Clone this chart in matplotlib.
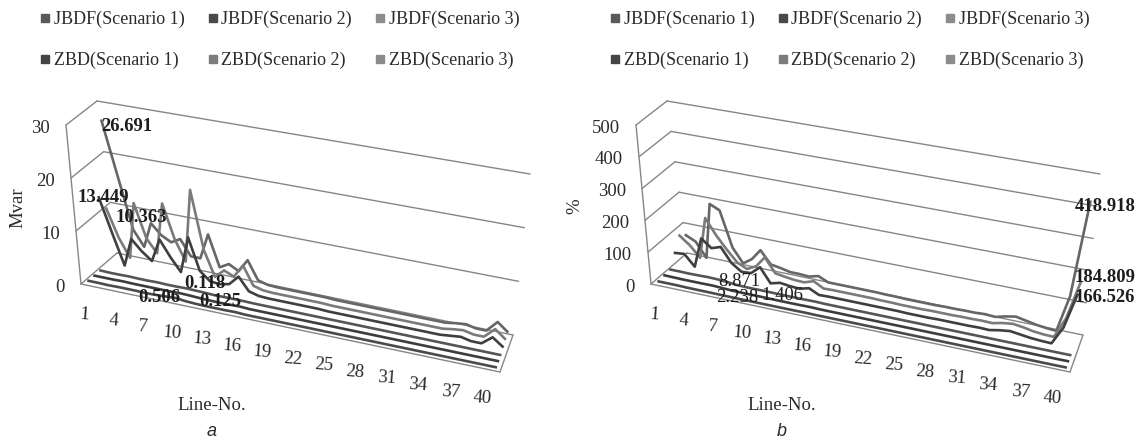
import matplotlib
matplotlib.use("Agg")
import matplotlib.pyplot as plt
from matplotlib.lines import Line2D
import numpy as np

plt.rcParams['font.family'] = ['Liberation Serif']

series_names = ["JBDF(Scenario 1)", "JBDF(Scenario 2)", "JBDF(Scenario 3)",
                "ZBD(Scenario 1)", "ZBD(Scenario 2)", "ZBD(Scenario 3)"]
line_no = list(range(1, 42))
tick_lines = list(range(1, 41, 3))

# Panel a, Mvar
a_j1 = [0.3,0.3,0.25,0.3,0.3,0.3,0.25,0.3,0.4,0.506,0.3,0.2,0.15,0.15,0.15,0.2,0.1,0.1,0.1,0.1,0.1,0.1,0.1,0.1,0.1,0.1,0.1,0.1,0.1,0.1,0.1,0.1,0.1,0.1,0.1,0.1,0.1,0.1,0.1,0.1,0.1]
a_j2 = [0.3,0.3,0.3,0.35,0.3,0.3,0.3,0.3,0.3,0.35,0.3,0.2,0.15,0.125,0.15,0.2,0.1,0.1,0.1,0.1,0.1,0.1,0.1,0.1,0.1,0.1,0.1,0.1,0.1,0.1,0.1,0.1,0.1,0.1,0.1,0.1,0.1,0.1,0.1,0.1,0.1]
a_j3 = [0.3,0.25,0.25,0.3,0.25,0.25,0.3,0.25,0.25,0.3,0.25,0.2,0.118,0.15,0.15,0.15,0.1,0.1,0.1,0.1,0.1,0.1,0.1,0.1,0.1,0.1,0.1,0.1,0.1,0.1,0.1,0.1,0.1,0.1,0.1,0.1,0.1,0.1,0.1,0.1,0.1]
a_z1 = [13.449,7.0,1.0,6.5,4.5,3.0,7.5,4.5,2.0,9.0,3.0,1.4,1.2,1.6,3.4,1.0,0.5,0.4,0.4,0.4,0.4,0.4,0.4,0.3,0.3,0.3,0.3,0.3,0.3,0.3,0.3,0.3,0.3,0.3,0.3,0.5,0.7,0.3,0.3,1.8,0.5]
a_z2 = [10.363,5.0,1.5,12.5,6.0,3.5,13.5,7.0,3.0,17.2,6.0,1.2,2.8,2.0,4.5,1.0,0.5,0.4,0.4,0.4,0.4,0.4,0.4,0.3,0.3,0.3,0.3,0.3,0.3,0.3,0.3,0.3,0.3,0.3,0.3,0.6,0.8,0.4,0.4,2.2,0.8]
a_z3 = [26.691,16.0,6.0,3.0,8.0,6.0,5.0,6.0,3.0,3.0,8.0,2.0,3.0,2.0,4.5,1.0,0.5,0.4,0.4,0.4,0.4,0.4,0.4,0.3,0.3,0.3,0.3,0.3,0.3,0.3,0.3,0.3,0.3,0.3,0.3,0.6,0.8,0.4,0.4,2.4,1.0]

# Panel b, percent
b_j1 = [3,3,3,2.238,2,2,1.8,1.5,1.2,1.2,1.2,1.1,1.1,1.1,1.2,1.4,1,1,1,1,1,1,1,1,1,1,1,1,1,1,1,1,1,1,1,1,1,1,1,1,1.2]
b_j2 = [6,5.5,5,5,5,5.5,4,2.5,2,2,2,1.6,1.4,1.406,1.5,2,1.2,1.1,1.1,1.1,1.1,1.1,1.1,1.1,1.1,1.1,1.1,1.1,1.1,1.1,1.1,1.1,1.1,1.1,1.1,1.1,1.1,1.1,1.1,1.1,1.3]
b_j3 = [8,8,7.5,8,8.871,8,6,3,2,2,2,1.6,1.4,1.4,1.5,2,1.2,1.1,1.1,1.1,1.1,1.1,1.1,1.1,1.1,1.1,1.1,1.1,1.1,1.1,1.1,1.1,1.1,1.1,1.1,1.1,1.1,1.1,1.1,1.1,1.3]
b_z1 = [45,48,13,110,85,95,50,28,30,55,10,18,14,12,20,5,6,6,6,6,6,6,6,6,5,5,5,6,6,6,6,7,6,12,16,12,8,6,5,60,166.526]
b_z2 = [85,60,25,160,110,70,35,20,35,70,25,20,16,15,25,8,9,9,9,9,9,8,8,7,7,7,8,8,8,9,9,10,9,16,20,16,10,7,6,70,184.809]
b_z3 = [70,55,8,190,175,60,15,35,70,30,25,18,18,16,24,10,10,10,10,10,10,9,9,8,8,8,8,9,9,10,10,12,10,18,24,18,12,8,6,120,418.918]

a_max, a_ticks = 30, [0, 10, 20, 30]
b_max, b_ticks = 500, [0, 100, 200, 300, 400, 500]

# Oblique view of the chart box, in pixels (front/back, left/right, bottom/top)
FLB, FLT = np.array([81., 284.]), np.array([66., 125.])
BLB, BLT = np.array([117., 253.]), np.array([97., 101.])
FRB, FRT = np.array([500., 372.]), np.array([514., 204.])
BRB, BRT = np.array([513., 335.]), np.array([530., 174.])


def project(s, d, v):
    s, d, v = np.asarray(s, float), np.asarray(d, float), np.asarray(v, float)
    s = s - 0.066*s*(1-s)  # perspective: the far left end is squeezed
    low = ((1-s)*(1-d))[..., None]*FLB + (s*(1-d))[..., None]*FRB + ((1-s)*d)[..., None]*BLB + (s*d)[..., None]*BRB
    top = ((1-s)*(1-d))[..., None]*FLT + (s*(1-d))[..., None]*FRT + ((1-s)*d)[..., None]*BLT + (s*d)[..., None]*BRT
    p = low*(1-v)[..., None] + top*v[..., None]
    return p[..., 0], p[..., 1]


fig = plt.figure(figsize=(11.4, 4.43), dpi=100)
GRID = '#868686'
TXT = '#2b2b2b'
line_colors = ['#4a4a4a', '#3c3c3c', '#555555', '#3f3f3f', '#7a7a7a', '#666666']
legend_colors = ['#5a5a5a', '#4a4a4a', '#8c8c8c', '#444444', '#7c7c7c', '#8c8c8c']


def panel(rect, xoff, series, vmax, ticks, ylabel, ylabel_xy, labels, letter):
    ax = fig.add_axes(rect)
    ax.set_xlim(xoff, xoff+1140*rect[2])
    ax.set_ylim(443, 0)
    ax.axis('off')

    def P(s, d, v):
        x, y = project(s, d, np.asarray(v, float)/vmax)
        return x+xoff, y

    def seg(p0, p1, **kw):
        x, y = P(*np.array([p0, p1]).T)
        ax.plot(x, y, color=GRID, lw=1.0, solid_capstyle='round', **kw)

    # walls and floor
    seg((0, 0, 0), (0, 0, vmax))
    seg((0, 0, 0), (1, 0, 0))
    seg((1, 0, 0), (1, 1, 0))
    seg((0, 0, 0), (0, 1, 0))
    seg((0, 1, 0), (1, 1, 0))
    for t in ticks[1:]:
        seg((0, 0, t), (0, 1, t))
        seg((0, 1, t), (1, 1, t))
    for t in ticks:
        x, y = P(0, 0, t)
        ax.text(x-16, y+3, str(t), ha='right', va='center', fontsize=13.5, color=TXT)

    # series, back to front
    n = len(line_no)
    for k in range(5, -1, -1):
        s = (np.array(line_no)-0.5)/n
        d = np.full(n, (k+0.5)/6)
        x, y = P(s, d, series[k])
        ax.plot(x, y, color=line_colors[k], lw=1.9, solid_joinstyle='round', label=series_names[k])

    for t in tick_lines:
        x, y = P((t-0.5)/n, 0, 0)
        ax.text(x-1, y+30, str(t), ha='center', va='center', fontsize=13.5, color=TXT, rotation=-4)

    ax.text(ylabel_xy[0]+xoff, ylabel_xy[1], ylabel, rotation=90, ha='center', va='center', fontsize=13.5, color=TXT)
    ax.text(xoff+212, 406, 'Line-No.', ha='center', va='center', fontsize=13.5, color=TXT)
    ax.text(xoff+212, 432, letter, ha='center', va='center', fontsize=13, color=TXT,
            family='Liberation Sans', style='italic')
    for txt, px, py, bold in labels:
        ax.text(px, py, txt, ha='center', va='center', fontsize=13.4, color='#1c1c1c',
                fontweight='bold' if bold else 'normal')

    order = [0, 3, 1, 4, 2, 5]
    handles = [Line2D([], [], ls='none', marker='s', ms=5.2, mfc=legend_colors[i], mec=legend_colors[i]) for i in order]
    ax.legend(handles, [series_names[i] for i in order], ncol=3, frameon=False,
              loc='upper left', bbox_to_anchor=(xoff+41, 11), bbox_transform=ax.transData,
              fontsize=13, labelcolor=TXT, labelspacing=1.3, columnspacing=1.35,
              handlelength=0.45, handletextpad=0.25, borderpad=0, borderaxespad=0)


labels_a = [("26.691", 127, 126, True), ("13.449", 103, 197, True), ("10.363", 141, 217, True),
            ("0.506", 159, 297, True), ("0.118", 205, 283, True), ("0.125", 220, 302, True)]
labels_b = [("8.871", 737, 282, False), ("2.238", 735, 298, False), ("1.406", 780, 296, False),
            ("418.918", 1103, 206, True), ("184.809", 1103, 277, True), ("166.526", 1103, 297, True)]

panel([0, 0, 0.5, 1], 0, [a_j1, a_j2, a_j3, a_z1, a_z2, a_z3], a_max, a_ticks, 'Mvar', (18, 208), labels_a, 'a')
panel([0.5, 0, 0.5, 1], 568, [b_j1, b_j2, b_j3, b_z1, b_z2, b_z3], b_max, b_ticks, '%', (5, 206), labels_b, 'b')

fig.savefig('out.png', dpi=100)
